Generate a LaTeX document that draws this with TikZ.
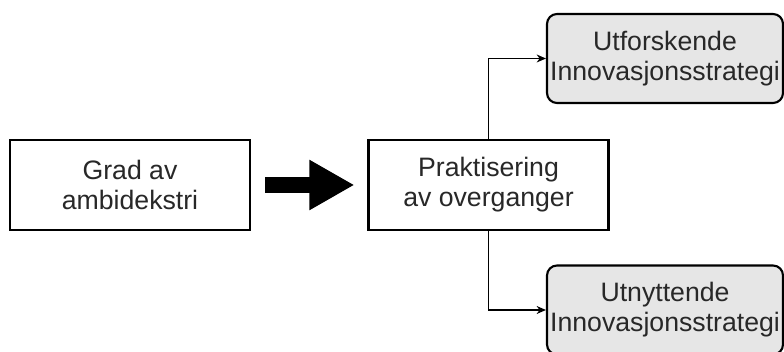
\documentclass[tikz,border=0pt]{standalone}
\usepackage{fontspec}
\setmainfont{Liberation Sans}
\usepackage{xcolor}
\usetikzlibrary{arrows.meta, positioning}
\definecolor{stratgray}{RGB}{230,230,230}
\definecolor{textgray}{RGB}{40,40,40}

\begin{document}
\begin{tikzpicture}[x=0.75pt, y=-0.75pt,
    box/.style={draw=black, line width=1.6pt, fill=white, text=textgray,
        minimum width=180pt, minimum height=67.5pt, inner sep=0pt, align=center,
        font=\fontsize{20pt}{22.5pt}\selectfont},
    strat/.style={box, fill=stratgray, rounded corners=7.5pt,
        minimum width=177pt, minimum height=66.75pt},
    conn/.style={draw=black, line width=0.9pt, -{Stealth[length=7pt, width=6pt]}},
    bigarrow/.style={draw=black, line width=12pt,
        -{Triangle[length=33.75pt, width=35.25pt]},
        shorten <=10.5pt, shorten >=9.75pt}]
    \useasboundingbox (0,0) rectangle (784,352);
    \clip (0,0) rectangle (784,352);
    % boxes
    \node[box] (grad) at (130,185) {Grad av\\ambidekstri};
    \node[box] (prak) at (488.5,185) {Praktisering\\av overganger};
    \node[strat] (utf) at (665,58.5) {Utforskende\\Innovasjonsstrategi};
    \node[strat] (utn) at (665,310) {Utnyttende\\Innovasjonsstrategi};
    % connections
    \draw[bigarrow] (grad.east) -- (prak.west);
    \draw[conn] (prak.north) |- (utf.west);
    \draw[conn] (prak.south) |- (utn.west);
\end{tikzpicture}
\end{document}
